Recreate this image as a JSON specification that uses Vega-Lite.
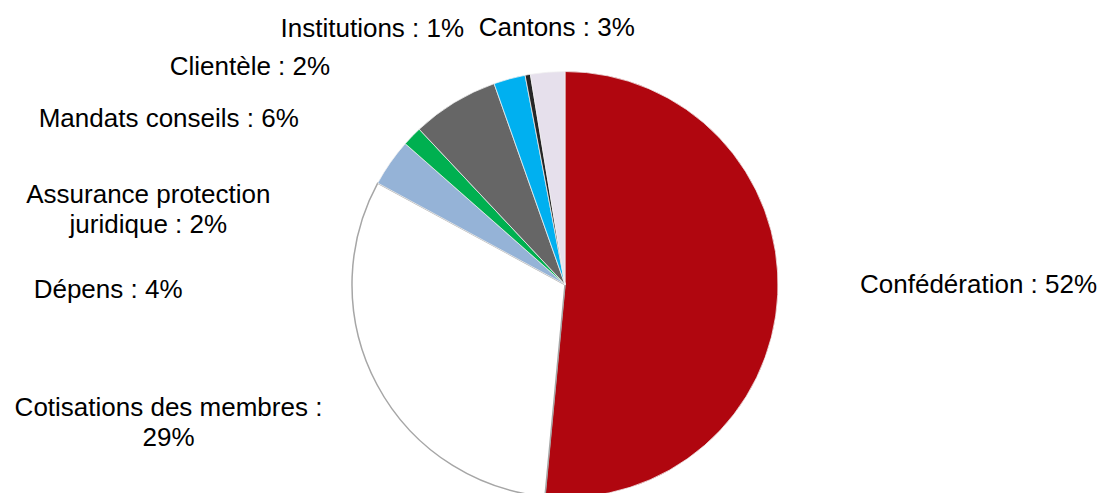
{
  "$schema": "https://vega.github.io/schema/vega-lite/v6.json",
  "width": 1074,
  "height": 417,
  "autosize": {"type": "none"},
  "padding": {"left": 28, "top": 76, "right": 0, "bottom": 0},
  "background": "white",
  "config": {"view": {"stroke": null}},
  "data": {
    "values": [
      {"idx": 1, "name": "Confédération", "value": 51.5, "label": "Confédération : 52%"},
      {"idx": 2, "name": "Cotisations des membres", "value": 31.4, "label": "Cotisations des membres :\n29%"},
      {"idx": 3, "name": "Dépens", "value": 3.6, "label": "Dépens : 4%"},
      {"idx": 4, "name": "Assurance protection juridique", "value": 1.5, "label": "Assurance protection\njuridique : 2%"},
      {"idx": 5, "name": "Mandats conseils", "value": 6.6, "label": "Mandats conseils : 6%"},
      {"idx": 6, "name": "Clientèle", "value": 2.4, "label": "Clientèle : 2%"},
      {"idx": 7, "name": "Institutions", "value": 0.4, "label": "Institutions : 1%"},
      {"idx": 8, "name": "Cantons", "value": 2.6, "label": "Cantons : 3%"}
    ]
  },
  "encoding": {
    "theta": {"field": "value", "type": "quantitative", "stack": true},
    "order": {"field": "idx", "type": "quantitative"}
  },
  "layer": [
    {
      "mark": {"type": "arc", "outerRadius": 213, "strokeWidth": 1},
      "encoding": {
        "color": {
          "field": "name",
          "type": "nominal",
          "legend": null,
          "scale": {
            "domain": ["Confédération", "Cotisations des membres", "Dépens", "Assurance protection juridique", "Mandats conseils", "Clientèle", "Institutions", "Cantons"],
            "range": ["#B0060F", "#FFFFFF", "#95B3D7", "#00B050", "#666666", "#00B0F0", "#262626", "#E6E0EC"]
          }
        },
        "stroke": {
          "condition": {"test": "datum.name === 'Cotisations des membres'", "value": "#A6A6A6"},
          "value": "#F2F2F2"
        },
        "strokeWidth": {
          "condition": {"test": "datum.name === 'Cotisations des membres'", "value": 1.5},
          "value": 0.75
        }
      }
    },
    {
      "mark": {"type": "text", "radius": 414, "dx": 0, "dy": -11, "font": "Liberation Sans", "fontSize": 26, "align": "center", "baseline": "alphabetic", "color": "#000000", "lineBreak": "\n", "lineHeight": 30},
      "encoding": {"text": {"condition": {"test": "datum.name === 'Confédération'", "field": "label"}, "value": ""}}
    },
    {
      "mark": {"type": "text", "radius": 412, "dx": -33, "dy": -62, "font": "Liberation Sans", "fontSize": 26, "align": "center", "baseline": "alphabetic", "color": "#000000", "lineBreak": "\n", "lineHeight": 30},
      "encoding": {"text": {"condition": {"test": "datum.name === 'Cotisations des membres'", "field": "label"}, "value": ""}}
    },
    {
      "mark": {"type": "text", "radius": 367, "dx": -156, "dy": 224, "font": "Liberation Sans", "fontSize": 26, "align": "center", "baseline": "alphabetic", "color": "#000000", "lineBreak": "\n", "lineHeight": 30},
      "encoding": {"text": {"condition": {"test": "datum.name === 'Dépens'", "field": "label"}, "value": ""}}
    },
    {
      "mark": {"type": "text", "radius": 356, "dx": -161, "dy": 166, "font": "Liberation Sans", "fontSize": 26, "align": "center", "baseline": "alphabetic", "color": "#000000", "lineBreak": "\n", "lineHeight": 30},
      "encoding": {"text": {"condition": {"test": "datum.name === 'Assurance protection juridique'", "field": "label"}, "value": ""}}
    },
    {
      "mark": {"type": "text", "radius": 341, "dx": -219, "dy": 134, "font": "Liberation Sans", "fontSize": 26, "align": "center", "baseline": "alphabetic", "color": "#000000", "lineBreak": "\n", "lineHeight": 30},
      "encoding": {"text": {"condition": {"test": "datum.name === 'Mandats conseils'", "field": "label"}, "value": ""}}
    },
    {
      "mark": {"type": "text", "radius": 284, "dx": -241, "dy": 65, "font": "Liberation Sans", "fontSize": 26, "align": "center", "baseline": "alphabetic", "color": "#000000", "lineBreak": "\n", "lineHeight": 30},
      "encoding": {"text": {"condition": {"test": "datum.name === 'Clientèle'", "field": "label"}, "value": ""}}
    },
    {
      "mark": {"type": "text", "radius": 278, "dx": -144, "dy": 26, "font": "Liberation Sans", "fontSize": 26, "align": "center", "baseline": "alphabetic", "color": "#000000", "lineBreak": "\n", "lineHeight": 30},
      "encoding": {"text": {"condition": {"test": "datum.name === 'Institutions'", "field": "label"}, "value": ""}}
    },
    {
      "mark": {"type": "text", "radius": 248, "dx": 12, "dy": -1, "font": "Liberation Sans", "fontSize": 26, "align": "center", "baseline": "alphabetic", "color": "#000000", "lineBreak": "\n", "lineHeight": 30},
      "encoding": {"text": {"condition": {"test": "datum.name === 'Cantons'", "field": "label"}, "value": ""}}
    }
  ]
}
